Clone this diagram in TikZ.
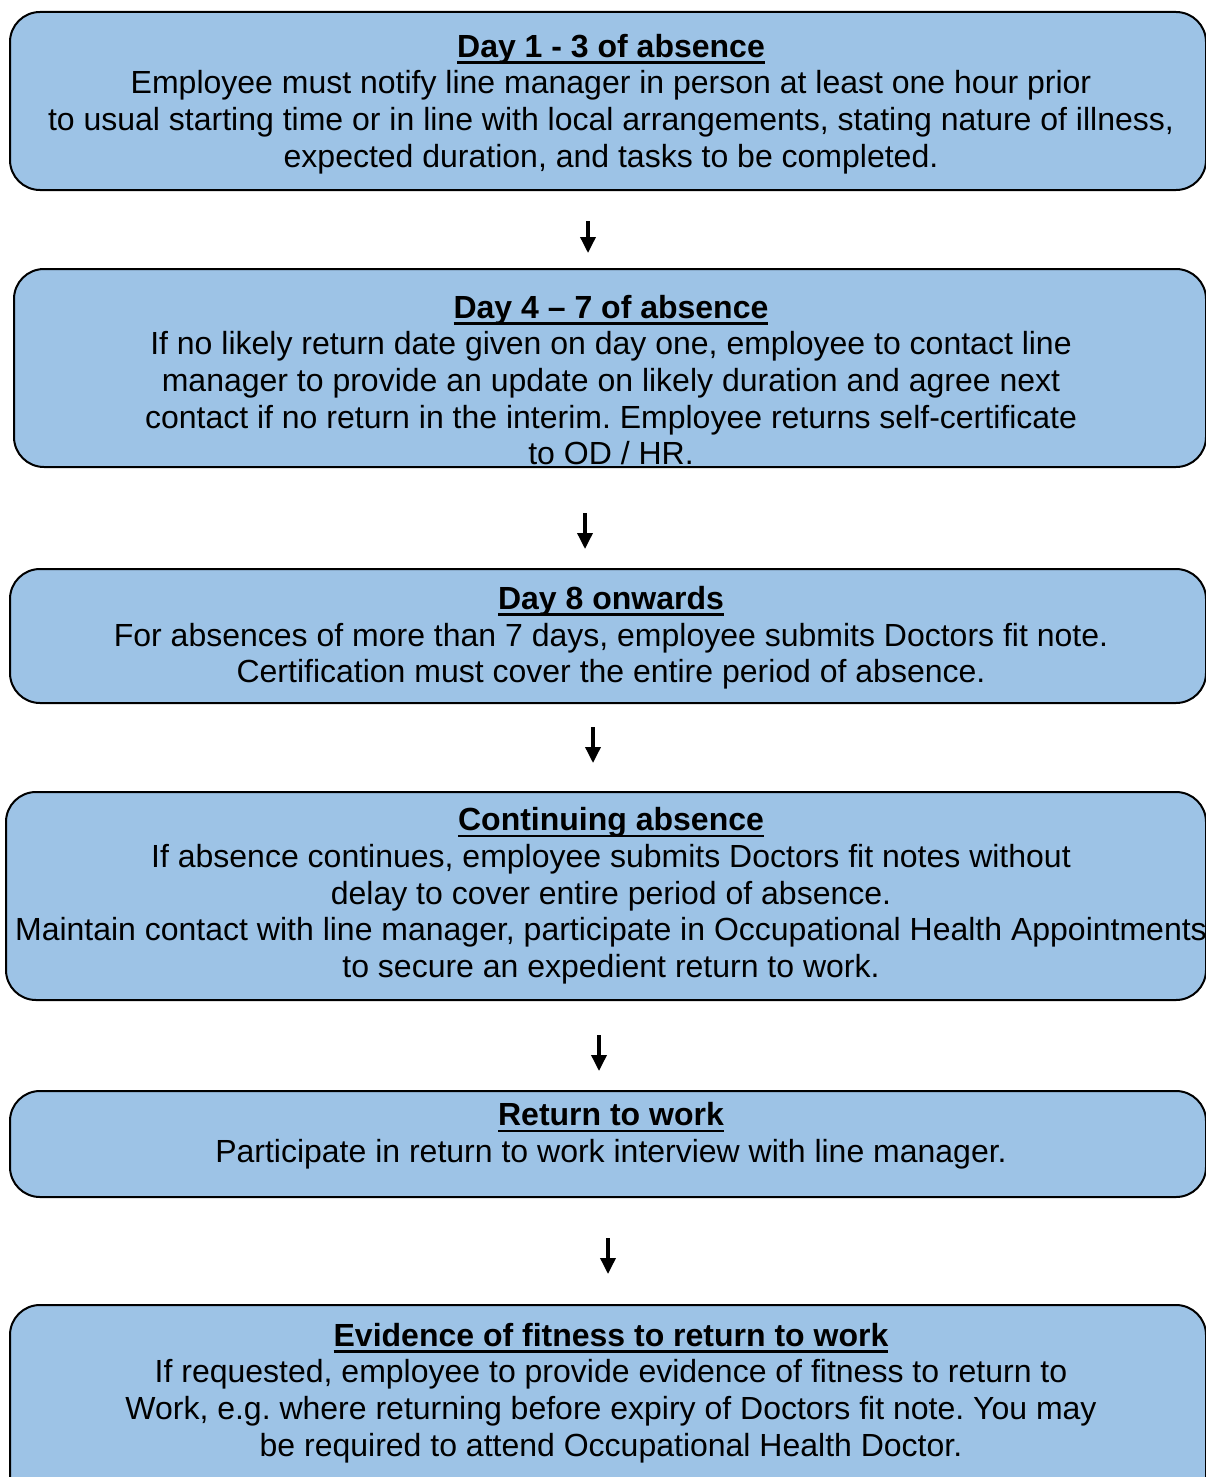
\documentclass[tikz,border=0pt]{standalone}
\usepackage{fontspec}
\setmainfont{Liberation Sans}
\usetikzlibrary{arrows.meta}
\frenchspacing
\definecolor{boxblue}{RGB}{157,195,230}
\newcommand\hd[1]{\setbox0\hbox{\bfseries #1}\rlap{\rule[-6.5pt]{\wd0}{2.8pt}}\box0}
\tikzset{
  box/.style={draw=black, line width=2pt, fill=boxblue, rounded corners=30pt, anchor=north west, inner sep=0pt},
  txt/.style={align=center, inner sep=0pt, font=\fontsize{32pt}{36.7pt}\selectfont},
  arr/.style={line width=3.5pt, -{Triangle[width=15pt,length=16pt]}}
}
\begin{document}
\begin{tikzpicture}[x=1pt,y=1pt]
\useasboundingbox (0,0) rectangle (1206,-1477);
\clip (0,0) rectangle (1206,-1477);
% boxes
\node[box, minimum width=1196pt, minimum height=178pt] (b1) at (9,-11) {};
\node[box, minimum width=1192pt, minimum height=198pt] (b2) at (13,-268) {};
\node[box, minimum width=1196pt, minimum height=134pt] (b3) at (9,-568) {};
\node[box, minimum width=1200pt, minimum height=208pt] (b4) at (5,-791) {};
\node[box, minimum width=1196pt, minimum height=106pt] (b5) at (9,-1090) {};
\node[box, minimum width=1196pt, minimum height=220pt] (b6) at (9,-1304) {};
% texts
\node[txt] (t1) at (611,-104) {\hd{Day 1 - 3 of absence}\\
Employee must notify line manager in person at least one hour prior\\
to usual starting time or in line with local arrangements, stating nature of illness,\\
expected duration, and tasks to be completed.};
\node[txt] (t2) at (611,-380) {\hd{Day 4 -- 7 of absence}\\
If no likely return date given on day one, employee to contact line\\
manager to provide an update on likely duration and agree next\\
contact if no return in the interim. Employee returns self-certificate\\
to OD / HR.};
\node[txt] (t3) at (611,-638) {\hd{Day 8 onwards}\\
For absences of more than 7 days, employee submits Doctors fit note.\\
Certification must cover the entire period of absence.};
\node[txt] (t4) at (611,-896) {\hd{Continuing absence}\\
If absence continues, employee submits Doctors fit notes without\\
delay to cover entire period of absence.\\
Maintain contact with line manager, participate in Occupational Health Appointments\\
to secure an expedient return to work.};
\node[txt] (t5) at (611,-1136) {\hd{Return to work}\\
Participate in return to work interview with line manager.};
\node[txt] (t6) at (611,-1393) {\hd{Evidence of fitness to return to work}\\
If requested, employee to provide evidence of fitness to return to\\
Work, e.g. where returning before expiry of Doctors fit note. You may\\
be required to attend Occupational Health Doctor.};
% arrow coordinates
\coordinate (a1s) at (588,-221); \coordinate (a1e) at (588,-253);
\coordinate (a2s) at (585,-513); \coordinate (a2e) at (585,-549);
\coordinate (a3s) at (593,-727); \coordinate (a3e) at (593,-763);
\coordinate (a4s) at (599,-1035); \coordinate (a4e) at (599,-1071);
\coordinate (a5s) at (608,-1238); \coordinate (a5e) at (608,-1274);
\draw[arr] (a1s) -- (a1e);
\draw[arr] (a2s) -- (a2e);
\draw[arr] (a3s) -- (a3e);
\draw[arr] (a4s) -- (a4e);
\draw[arr] (a5s) -- (a5e);
\end{tikzpicture}
\end{document}
